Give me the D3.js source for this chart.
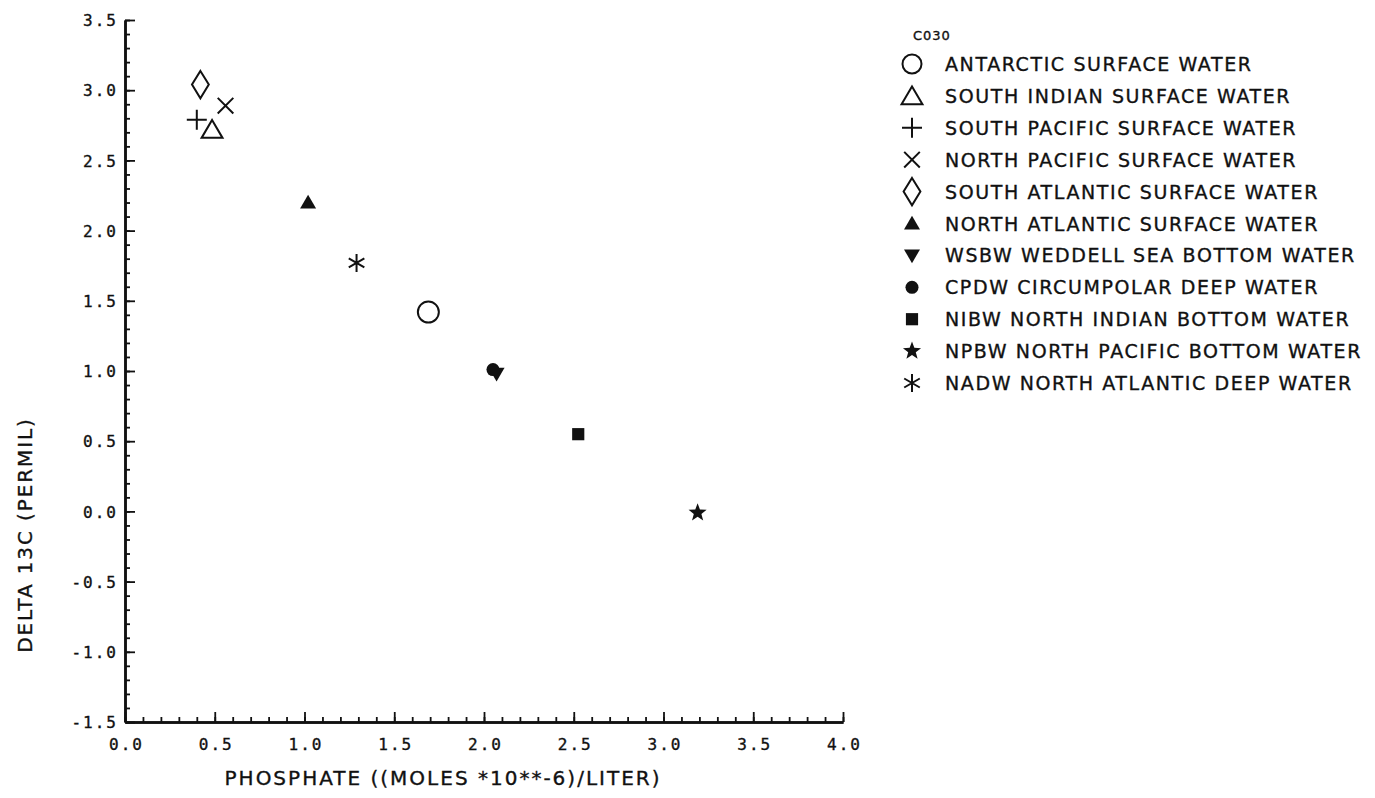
<!DOCTYPE html>
<html><head><meta charset="utf-8">
<script src="https://cdn.jsdelivr.net/npm/d3@7"></script>
<style>
html,body{margin:0;padding:0;background:#fff;}
svg{display:block;}
</style></head><body>
<svg id="chart" width="1375" height="798"></svg>
<script>
// ---- data ----
const seriesNames = [
  "ANTARCTIC SURFACE WATER",
  "SOUTH INDIAN SURFACE WATER",
  "SOUTH PACIFIC SURFACE WATER",
  "NORTH PACIFIC SURFACE WATER",
  "SOUTH ATLANTIC SURFACE WATER",
  "NORTH ATLANTIC SURFACE WATER",
  "WSBW WEDDELL SEA BOTTOM WATER",
  "CPDW CIRCUMPOLAR DEEP WATER",
  "NIBW NORTH INDIAN BOTTOM WATER",
  "NPBW NORTH PACIFIC BOTTOM WATER",
  "NADW NORTH ATLANTIC DEEP WATER"
];
const seriesSymbols = ["circle","triangle","plus","times","diamond","triangleFilled",
  "triangleDownFilled","circleFilled","squareFilled","star","asterisk"];
const phosphate = [1.69, 0.485, 0.40, 0.56, 0.42, 1.02, 2.07, 2.05, 2.525, 3.19, 1.29];
const delta13C  = [1.42, 2.72, 2.79, 2.89, 3.04, 2.20, 0.98, 1.01, 0.55, -0.01, 1.77];
const xTickValues = [0.0,0.5,1.0,1.5,2.0,2.5,3.0,3.5,4.0];
const xTickLabels = ["0.0","0.5","1.0","1.5","2.0","2.5","3.0","3.5","4.0"];
const yTickValues = [-1.5,-1.0,-0.5,0.0,0.5,1.0,1.5,2.0,2.5,3.0,3.5];
const yTickLabels = ["-1.5","-1.0","-0.5","0.0","0.5","1.0","1.5","2.0","2.5","3.0","3.5"];
const legendTitle = "C030";
const xTitle = "PHOSPHATE ((MOLES *10**-6)/LITER)";
const yTitle = "DELTA 13C (PERMIL)";

// ---- layout ----
const svg = d3.select("#chart");
const ink = "#111";
const x = d3.scaleLinear().domain([0, 4]).range([125, 843]);
const y = d3.scaleLinear().domain([-1.5, 3.5]).range([722, 20]);

// custom symbol types (size = nominal radius in px)
const symTypes = {
  circle: {draw(c, r){ c.moveTo(r,0); c.arc(0,0,r,0,2*Math.PI); }},
  circleFilled: {draw(c, r){ r*=0.62; c.moveTo(r,0); c.arc(0,0,r,0,2*Math.PI); }},
  triangle: {draw(c, r){ c.moveTo(0,-r*0.86); c.lineTo(r*0.95,r*0.76); c.lineTo(-r*0.95,r*0.76); c.closePath(); }},
  triangleFilled: {draw(c, r){ c.moveTo(0,-r*0.78); c.lineTo(r*0.8,r*0.6); c.lineTo(-r*0.8,r*0.6); c.closePath(); }},
  triangleDownFilled: {draw(c, r){ c.moveTo(0,r*0.78); c.lineTo(r*0.8,-r*0.6); c.lineTo(-r*0.8,-r*0.6); c.closePath(); }},
  plus: {draw(c, r){ c.moveTo(-r,0); c.lineTo(r,0); c.moveTo(0,-r); c.lineTo(0,r); }},
  times: {draw(c, r){ const a=r*0.78; c.moveTo(-a,-a); c.lineTo(a,a); c.moveTo(-a,a); c.lineTo(a,-a); }},
  diamond: {draw(c, r){ c.moveTo(0,-r*1.3); c.lineTo(r*0.8,0); c.lineTo(0,r*1.3); c.lineTo(-r*0.8,0); c.closePath(); }},
  squareFilled: {draw(c, r){ const a=r*0.58; c.rect(-a,-a,2*a,2*a); }},
  star: {draw(c, r){
    const ro=r*0.95, ri=ro*0.42;
    for(let i=0;i<10;i++){
      const rr = i%2===0 ? ro : ri;
      const ang = -Math.PI/2 + i*Math.PI/5;
      const px = rr*Math.cos(ang), py = rr*Math.sin(ang);
      if(i===0) c.moveTo(px,py); else c.lineTo(px,py);
    }
    c.closePath();
  }},
  asterisk: {draw(c, r){
    const t=r/2, u=t*Math.sqrt(3);
    c.moveTo(0,r); c.lineTo(0,-r);
    c.moveTo(-u,-t); c.lineTo(u,t);
    c.moveTo(-u,t); c.lineTo(u,-t);
  }}
};
const filledSyms = new Set(["circleFilled","triangleFilled","triangleDownFilled","squareFilled","star"]);
const symPath = (name, r) => d3.symbol().type(symTypes[name]).size(r)();
function styleSym(sel, name){
  if(filledSyms.has(name)) sel.attr("fill", ink).attr("stroke", "none");
  else sel.attr("fill", "none").attr("stroke", ink).attr("stroke-width", 2).attr("stroke-linejoin","miter");
}
const thicken = sel => sel.attr("stroke", ink).attr("stroke-width", 0.35);

// ---- axes ----
const minorX = d3.range(0, 41).map(i => i/10);
const minorY = d3.range(-15, 36).map(i => i/10);

const gx = svg.append("g").attr("transform", `translate(0,${y(-1.5)})`);
gx.call(d3.axisBottom(x).tickValues(minorX).tickSize(-5).tickSizeOuter(0).tickFormat(""));
gx.call(g => g.append("g").call(d3.axisBottom(x).tickValues(xTickValues).tickSize(-10).tickSizeOuter(0)
  .tickFormat((d,i) => xTickLabels[i]).tickPadding(20)));
const gy = svg.append("g").attr("transform", `translate(${x(0)},0)`);
gy.call(d3.axisLeft(y).tickValues(minorY).tickSize(-5).tickSizeOuter(0).tickFormat(""));
gy.call(g => g.append("g").call(d3.axisLeft(y).tickValues(yTickValues).tickSize(-10).tickSizeOuter(0)
  .tickFormat((d,i) => yTickLabels[i]).tickPadding(8)));

svg.selectAll(".domain").attr("stroke", ink).attr("stroke-width", 2.5);
svg.selectAll(".tick line").attr("stroke", ink).attr("stroke-width", 1.8);
svg.selectAll(".tick text")
  .attr("fill", ink)
  .style("font-family", "'DejaVu Sans Mono', monospace")
  .style("font-size", "16px")
  .style("letter-spacing", "2px")
  .call(thicken);
gx.selectAll(".tick text").attr("dy", null).attr("y", 28).attr("dx", 1);
gy.selectAll(".tick text").attr("x", -7).attr("dy", "0.36em");

// titles
svg.append("text")
  .attr("x", 443).attr("y", 785).attr("text-anchor", "middle")
  .attr("fill", ink)
  .style("font-family", "'DejaVu Sans', sans-serif").style("font-size", "20px")
  .style("letter-spacing", "2px")
  .call(thicken)
  .text(xTitle);
svg.append("text")
  .attr("transform", "translate(32,535) rotate(-90)").attr("text-anchor", "middle")
  .attr("fill", ink)
  .style("font-family", "'DejaVu Sans', sans-serif").style("font-size", "20px")
  .style("letter-spacing", "1.9px")
  .call(thicken)
  .text(yTitle);

// ---- points ----
const pts = seriesNames.map((n, i) => ({name: n, sym: seriesSymbols[i], px: phosphate[i], dy: delta13C[i]}));
const sizeOf = {circle:10.5, triangle:11, plus:10, times:10, diamond:10.5, triangleFilled:10,
  triangleDownFilled:10, circleFilled:10.5, squareFilled:10.5, star:10, asterisk:9};
svg.append("g").selectAll("path").data(pts).join("path")
  .attr("transform", d => `translate(${x(d.px)},${y(d.dy)})`)
  .attr("d", d => symPath(d.sym, sizeOf[d.sym]))
  .each(function(d){ styleSym(d3.select(this), d.sym); });

// ---- legend ----
const lg = svg.append("g").attr("transform", "translate(912,0)");
lg.append("text").attr("x", 1).attr("y", 40).attr("fill", ink)
  .style("font-family", "'DejaVu Sans', sans-serif").style("font-size", "13px")
  .style("letter-spacing", "1px").call(thicken).text(legendTitle);
const rows = lg.selectAll("g.row").data(pts).join("g").attr("class", "row")
  .attr("transform", (d, i) => `translate(0,${64 + 31.9*i})`);
rows.append("path")
  .attr("d", d => symPath(d.sym, d.sym === "circle" ? 9.5 : sizeOf[d.sym]))
  .each(function(d){ styleSym(d3.select(this), d.sym); });
rows.append("text").attr("x", 33).attr("y", 7).attr("fill", ink)
  .style("font-family", "'DejaVu Sans', sans-serif").style("font-size", "19px")
  .style("letter-spacing", "1.6px")
  .call(thicken)
  .text(d => d.name);
</script>
</body></html>
